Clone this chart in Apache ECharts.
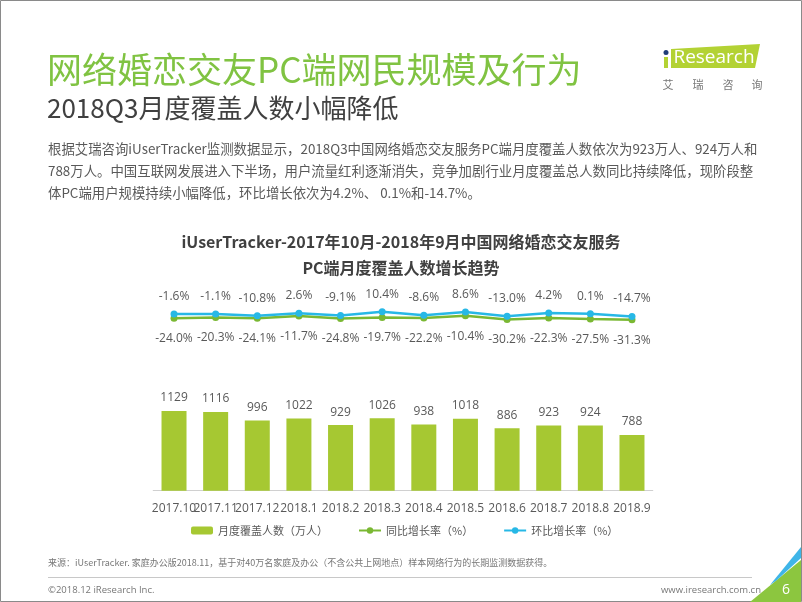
<!DOCTYPE html>
<html>
<head>
<meta charset="utf-8">
<script src="https://cdn.jsdelivr.net/npm/echarts@6/dist/echarts.min.js"></script>
<style>
html,body{margin:0;padding:0;background:#fff;}
#main{width:802px;height:602px;}
</style>
</head>
<body>
<div id="main"></div>
<script>
var categories = ['2017.10','2017.11','2017.12','2018.1','2018.2','2018.3','2018.4','2018.5','2018.6','2018.7','2018.8','2018.9'];
var users = [1129,1116,996,1022,929,1026,938,1018,886,923,924,788];
var yoyRate = [-24.0,-20.3,-24.1,-11.7,-24.8,-19.7,-22.2,-10.4,-30.2,-22.3,-27.5,-31.3];
var momRate = [-1.6,-1.1,-10.8,2.6,-9.1,10.4,-8.6,8.6,-13.0,4.2,0.1,-14.7];
var seriesNames = ['月度覆盖人数（万人）','同比增长率（%）','环比增长率（%）'];

var FONT = "'Noto Sans CJK SC','Open Sans',sans-serif";
var LATIN = "'Open Sans','Noto Sans CJK SC',sans-serif";
var GRAY = '#595959';

function txt(text, x, y, size, color, opts) {
  opts = opts || {};
  var align = opts.align || 'left';
  return {
    type: 'text',
    silent: true,
    style: {
      text: text, x: x, y: y,
      fill: color,
      fontSize: size,
      fontFamily: opts.family || FONT,
      fontWeight: opts.weight || 'normal',
      textAlign: align, align: align,
      textVerticalAlign: 'middle', verticalAlign: 'middle'
    }
  };
}

var chart = echarts.init(document.getElementById('main'));
var option = {
  backgroundColor: '#ffffff',
  animation: false,
  title: {
    text: 'iUserTracker-2017年10月-2018年9月中国网络婚恋交友服务\nPC端月度覆盖人数增长趋势',
    left: 'center',
    top: 224,
    textStyle: { fontSize: 16, fontWeight: 'bold', color: '#404040', fontFamily: FONT, lineHeight: 26 }
  },
  legend: {
    data: seriesNames,
    left: 186,
    top: 520,
    itemWidth: 22,
    itemHeight: 8,
    itemGap: 30,
    textStyle: { fontSize: 11, color: GRAY, fontFamily: FONT }
  },
  grid: [
    { left: 153.2, right: 149.2, top: 384.8, bottom: 111.3 },
    { left: 153.2, right: 149.2, top: 294.7, bottom: 269.3 }
  ],
  xAxis: [
    {
      type: 'category', gridIndex: 0, data: categories,
      axisLine: { lineStyle: { color: '#d0d0d0', width: 1 } },
      axisTick: { show: false },
      axisLabel: { interval: 0, color: GRAY, fontSize: 12, fontFamily: LATIN, margin: 12,
        overflow: 'none', hideOverlap: false, width: 60 }
    },
    { type: 'category', gridIndex: 1, data: categories, show: false }
  ],
  yAxis: [
    { type: 'value', gridIndex: 0, min: 0, max: 1500, show: false, splitLine: { show: false } },
    { type: 'value', gridIndex: 1, min: -100, max: 100, show: false, splitLine: { show: false } }
  ],
  series: [
    {
      name: seriesNames[0], type: 'bar', xAxisIndex: 0, yAxisIndex: 0,
      data: users, barWidth: 25,
      itemStyle: { color: '#a6c832' },
      label: { show: true, position: 'top', distance: 7, color: GRAY, fontSize: 12, fontFamily: LATIN }
    },
    {
      name: seriesNames[1], type: 'line', xAxisIndex: 1, yAxisIndex: 1,
      data: yoyRate, symbol: 'circle', symbolSize: 7,
      lineStyle: { color: '#7ab833', width: 2.5 },
      itemStyle: { color: '#7ab833' },
      label: { show: true, position: 'bottom', distance: 11, color: GRAY, fontSize: 12, fontFamily: LATIN,
        formatter: function (p) { return p.value.toFixed(1) + '%'; } }
    },
    {
      name: seriesNames[2], type: 'line', xAxisIndex: 1, yAxisIndex: 1,
      data: momRate, symbol: 'circle', symbolSize: 7,
      lineStyle: { color: '#27b8e6', width: 2.5 },
      itemStyle: { color: '#27b8e6' },
      label: { show: true, position: 'top', distance: 8, color: GRAY, fontSize: 12, fontFamily: LATIN,
        formatter: function (p) { return p.value.toFixed(1) + '%'; } }
    }
  ],
  graphic: [
    { type: 'rect', silent: true, shape: { x: 0.5, y: 0.5, width: 801, height: 601 }, style: { fill: null, stroke: '#8a8a8a', lineWidth: 1 } },
    txt('网络婚恋交友PC端网民规模及行为', 47, 70, 35, '#80c342'),
    txt('2018Q3月度覆盖人数小幅降低', 47, 108, 26, '#404040'),
    txt('根据艾瑞咨询iUserTracker监测数据显示，2018Q3中国网络婚恋交友服务PC端月度覆盖人数依次为923万人、924万人和', 48, 149, 13.4, GRAY),
    txt('788万人。中国互联网发展进入下半场，用户流量红利逐渐消失，竞争加剧行业月度覆盖总人数同比持续降低，现阶段整', 48, 171, 13.4, GRAY),
    txt('体PC端用户规模持续小幅降低，环比增长依次为4.2%、 0.1%和-14.7%。', 48, 193, 13.4, GRAY),
    { type: 'polygon', silent: true, shape: { points: [[671, 49], [760, 44], [755, 68], [671, 68]] }, style: { fill: '#b3d234' } },
    { type: 'rect', silent: true, shape: { x: 664, y: 57, width: 4, height: 11 }, style: { fill: '#b3d234' } },
    { type: 'circle', silent: true, shape: { cx: 666, cy: 52.5, r: 2.5 }, style: { fill: '#1f3c78' } },
    txt('Research', 714, 58, 19, '#ffffff', { align: 'center', family: LATIN }),
    txt('艾', 668, 85, 11, '#777777', { align: 'center' }),
    txt('瑞', 698, 85, 11, '#777777', { align: 'center' }),
    txt('咨', 728, 85, 11, '#777777', { align: 'center' }),
    txt('询', 757, 85, 11, '#777777', { align: 'center' }),
    txt('来源：iUserTracker. 家庭办公版2018.11，基于对40万名家庭及办公（不含公共上网地点）样本网络行为的长期监测数据获得。', 48, 563, 9, '#777777'),
    { type: 'line', silent: true, shape: { x1: 48, y1: 577.5, x2: 752, y2: 577.5 }, style: { stroke: '#c8c8c8', lineWidth: 1 } },
    txt('©2018.12 iResearch Inc.', 48, 590, 9.5, '#777777', { family: LATIN }),
    txt('www.iresearch.com.cn', 761, 590, 9.5, '#777777', { align: 'right', family: LATIN }),
    { type: 'polygon', silent: true, shape: { points: [[750, 602], [801, 560], [801, 602]] }, style: { fill: '#8cc63f' } },
    { type: 'polygon', silent: true, shape: { points: [[770, 585], [801, 547], [801, 558], [777, 580]] }, style: { fill: '#3fb5e8' } },
    txt('6', 786, 590, 14, '#ffffff', { align: 'center', family: LATIN })
  ]
};
chart.setOption(option);
</script>
</body>
</html>
